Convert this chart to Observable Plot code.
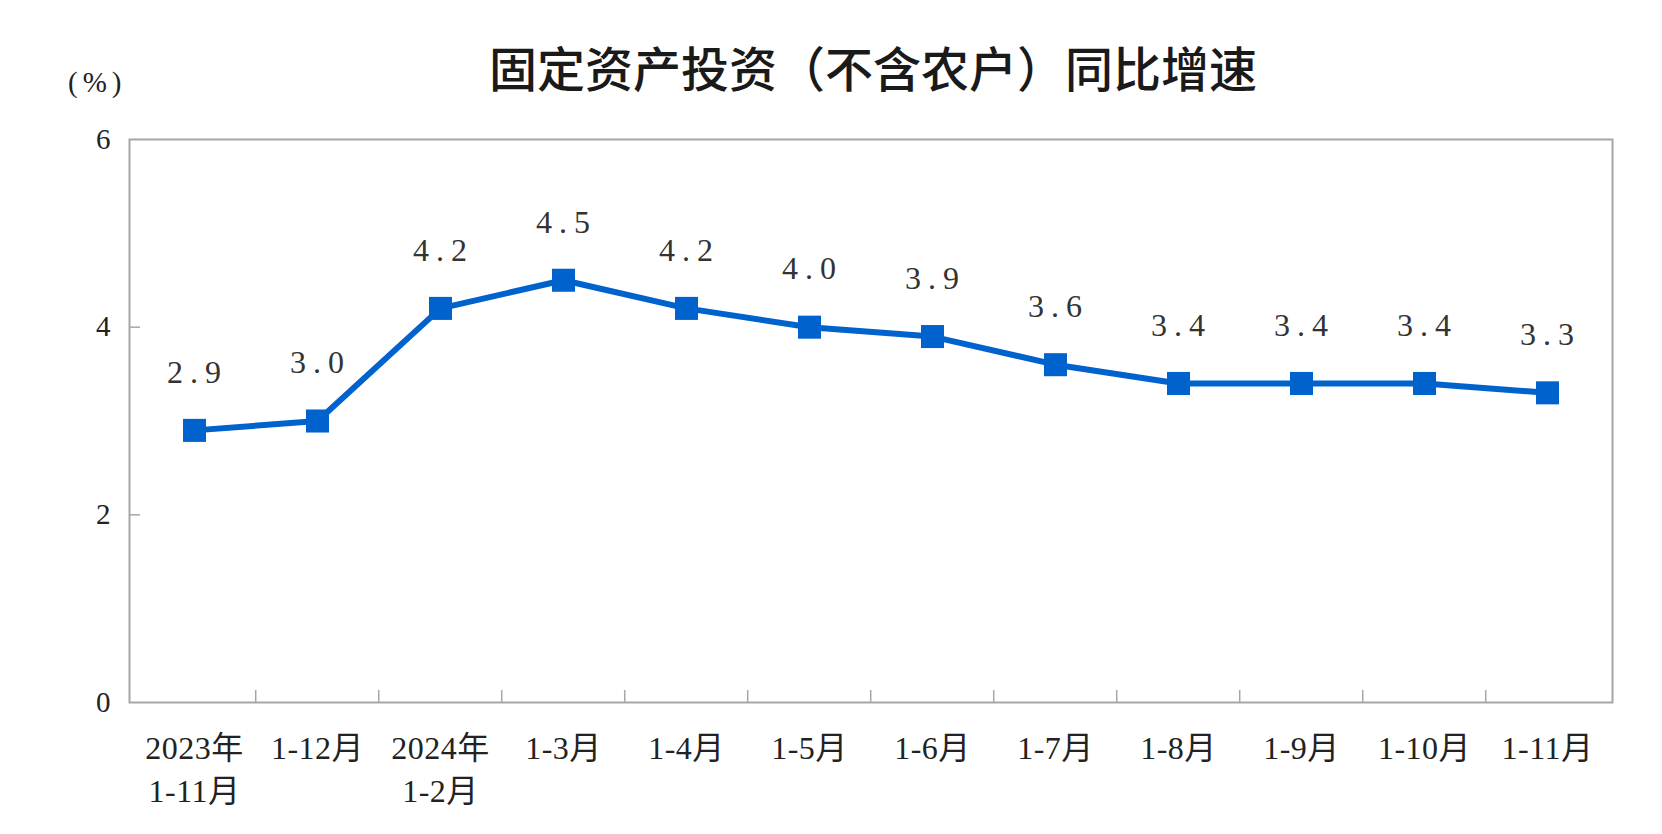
<!DOCTYPE html>
<html><head><meta charset="utf-8">
<script src="https://cdn.jsdelivr.net/npm/d3@7"></script>
<script src="https://cdn.jsdelivr.net/npm/@observablehq/plot@0.6"></script>
<style>
body{margin:0;background:#fff;}
#wrap{position:relative;width:1662px;height:834px;overflow:hidden;}
#head{position:relative;height:100px;}
#title{position:absolute;left:0;width:1746px;top:37px;text-align:center;font-family:"Noto Sans CJK SC",sans-serif;font-size:48px;font-weight:500;color:#1a1a1a;line-height:58px;}
#unit{position:absolute;left:68px;top:66px;font-family:"Liberation Serif",serif;font-size:29px;color:#222;letter-spacing:5px;}
</style></head>
<body><div id="wrap">
<div id="head"><div id="title">固定资产投资（不含农户）同比增速</div><div id="unit">(%)</div></div>
<div id="chart"></div>
</div>
<script>
const periods = ["2023年\n1-11月","1-12月","2024年\n1-2月","1-3月","1-4月","1-5月","1-6月","1-7月","1-8月","1-9月","1-10月","1-11月"];
const growth = [2.9,3.0,4.2,4.5,4.2,4.0,3.9,3.6,3.4,3.4,3.4,3.3];
const yTicks = [0,2,4,6];

const data = periods.map((p,i)=>({period:p, value:growth[i]}));
const W = 1662, H = 734, mL = 129, mR = 50, mT = 39, mB = 132;
const step = (W - mL - mR) / periods.length;
const serif = '"Liberation Serif","Noto Sans CJK SC",serif';

const chart = Plot.plot({
  width: W, height: H,
  marginLeft: mL, marginRight: mR, marginTop: mT, marginBottom: mB,
  style: {fontFamily: serif, background: "#fff"},
  x: {type: "point", domain: periods, padding: 0.5, axis: null},
  y: {domain: [0,6], ticks: yTicks, axis: null},
  marks: [
    Plot.frame({stroke: "#a6a6a6", strokeWidth: 2}),
    Plot.axisY(yTicks, {tickSize: 0, tickPadding: 19, fontSize: 29, fill: "#222", fontFamily: serif, tickFormat: "d", label: null}),
    Plot.ruleY([2,4], {stroke: "#a6a6a6", strokeWidth: 1.5, insetRight: W - mL - mR - 11}),
    Plot.ruleX(periods.slice(1), {x: d => d, dx: -step/2, stroke: "#a6a6a6", strokeWidth: 1.5, insetTop: H - mT - mB - 12}),
    Plot.text(periods, {x: d => d, y: 0, text: d => d, lineAnchor: "top", dy: 26, lineHeight: 1.35, fontSize: 32, fill: "#222", fontFamily: serif}),
    Plot.line(data, {x: "period", y: "value", stroke: "#0062CC", strokeWidth: 6}),
    Plot.dot(data, {x: "period", y: "value", symbol: "square", r: 13, fill: "#0062CC"}),
    Plot.text(data, {x: "period", y: "value", text: d => d.value.toFixed(1), dy: -58, dx: 3, fontSize: 32, fill: "#333", fontFamily: serif})
  ]
});
const groups = chart.querySelectorAll('g[aria-label="text"]');
groups[groups.length - 1].querySelectorAll("text").forEach(t => t.style.letterSpacing = "7px");
groups[0].querySelectorAll("text").forEach(t => t.style.letterSpacing = "0.5px");
document.getElementById("chart").appendChild(chart);
</script>
</body></html>
